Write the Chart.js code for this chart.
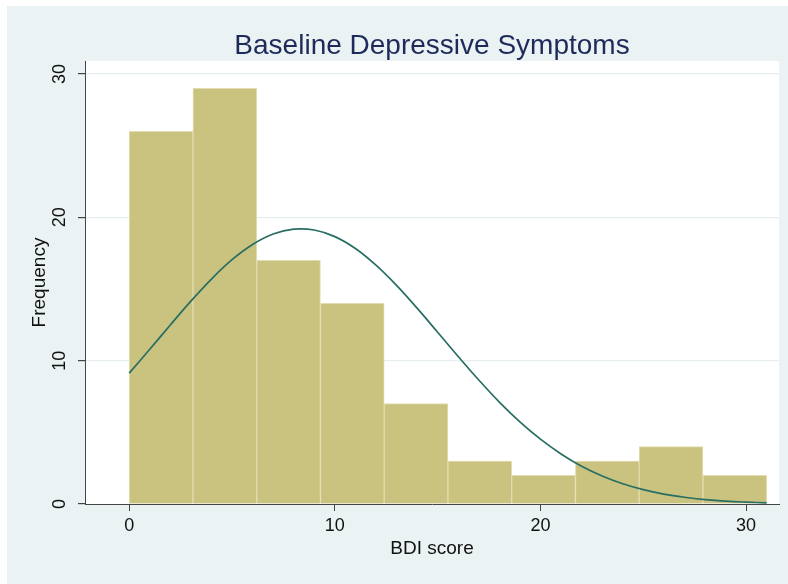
<!DOCTYPE html>
<html>
<head>
<meta charset="utf-8">
<script src="https://cdn.jsdelivr.net/npm/chart.js@4.4.1/dist/chart.umd.min.js"></script>
<style>
  html, body { margin: 0; padding: 0; background: #fff; }
  canvas { display: block; }
</style>
</head>
<body>
<canvas id="myChart" width="788" height="584"></canvas>
<script>
// histogram bins (BDI score), width 3.1
var binStarts = [0, 3.1, 6.2, 9.3, 12.4, 15.5, 18.6, 21.7, 24.8, 27.9];
var binWidth = 3.1;
var counts = [26, 29, 17, 14, 7, 3, 2, 3, 4, 2];

// normal density overlay
var curveX = [0, 1, 2, 3, 4, 5, 6, 7, 8, 9, 10, 11, 12, 13, 14, 15, 16, 17, 18, 19, 20,
              21, 22, 23, 24, 25, 26, 27, 28, 29, 30, 31];
var curveY = [9.13, 10.79, 12.49, 14.15, 15.69, 17.04, 18.10, 18.83, 19.17, 19.11, 18.65,
              17.82, 16.66, 15.25, 13.66, 11.98, 10.29, 8.65, 7.11, 5.73, 4.52, 3.49, 2.63,
              1.95, 1.41, 1.00, 0.69, 0.47, 0.31, 0.20, 0.13, 0.08];

var xTicks = [0, 10, 20, 30];
var yTicks = [0, 10, 20, 30];

var barData = [];
for (var i = 0; i < counts.length; i++) {
  barData.push({x: binStarts[i] + binWidth / 2, y: counts[i]});
}
var lineData = [];
for (var i = 0; i < curveX.length; i++) {
  lineData.push({x: curveX[i], y: curveY[i]});
}

var fontFamily = '"Liberation Sans", Arial, Helvetica, sans-serif';

var background = {
  id: 'background',
  beforeDraw: function(chart) {
    var c = chart.ctx;
    var a = chart.chartArea;
    c.save();
    c.fillStyle = '#ffffff';
    c.fillRect(0, 0, chart.width, chart.height);
    c.fillStyle = '#eaf2f3';
    c.fillRect(7, 6, chart.width - 7, chart.height - 6);
    c.fillStyle = '#ffffff';
    c.fillRect(a.left, a.top, a.right - a.left, a.bottom - a.top);
    c.restore();
  }
};

var ctx = document.getElementById('myChart').getContext('2d');
var myChart = new Chart(ctx, {
  data: {
    datasets: [{
      type: 'line',
      data: lineData,
      borderColor: '#286e63',
      borderWidth: 1.7,
      pointRadius: 0,
      tension: 0.4,
      fill: false,
      order: 0
    }, {
      type: 'bar',
      data: barData,
      backgroundColor: '#cac380',
      borderColor: '#e2ddb0',
      borderWidth: 1,
      barPercentage: 1,
      categoryPercentage: 1,
      grouped: false,
      order: 1
    }]
  },
  options: {
    responsive: false,
    animation: false,
    layout: {
      padding: {left: 7, top: 6, right: 9, bottom: 20}
    },
    plugins: {
      legend: {display: false},
      tooltip: {enabled: false},
      title: {
        display: true,
        text: 'Baseline Depressive Symptoms',
        fullSize: false,
        color: '#1e2b5a',
        font: {family: fontFamily, size: 28, weight: 'normal', lineHeight: 1.0},
        padding: {top: 26, bottom: 1}
      }
    },
    scales: {
      x: {
        type: 'linear',
        min: -2.15,
        max: 31.6,
        offset: false,
        afterBuildTicks: function(s) {
          s.ticks = xTicks.map(function(v) { return {value: v}; });
        },
        afterFit: function(s) { s.height = 60; },
        grid: {display: true, offset: false, drawOnChartArea: false, tickLength: 7, tickColor: '#444', color: '#444'},
        border: {display: true, color: '#444', width: 1},
        ticks: {color: '#111', padding: 4, maxRotation: 0, font: {family: fontFamily, size: 18}},
        title: {
          display: true,
          text: 'BDI score',
          color: '#111',
          font: {family: fontFamily, size: 19},
          padding: {top: 0, bottom: 4}
        }
      },
      y: {
        type: 'linear',
        min: 0,
        max: 30.9,
        afterBuildTicks: function(s) {
          s.ticks = yTicks.map(function(v) { return {value: v}; });
        },
        afterFit: function(s) { s.width = 78; },
        grid: {
          color: function(c) { return c.tick && c.tick.value === 0 ? 'rgba(0,0,0,0)' : '#e6eef0'; },
          tickColor: '#444',
          tickLength: 7,
          lineWidth: 1.2
        },
        border: {display: true, color: '#444', width: 1},
        ticks: {
          color: '#111',
          padding: 8,
          minRotation: 90,
          maxRotation: 90,
          crossAlign: 'center',
          font: {family: fontFamily, size: 18}
        },
        title: {
          display: true,
          text: 'Frequency',
          color: '#111',
          font: {family: fontFamily, size: 19},
          padding: {top: 21, bottom: 0}
        }
      }
    }
  },
  plugins: [background]
});
</script>
</body>
</html>
